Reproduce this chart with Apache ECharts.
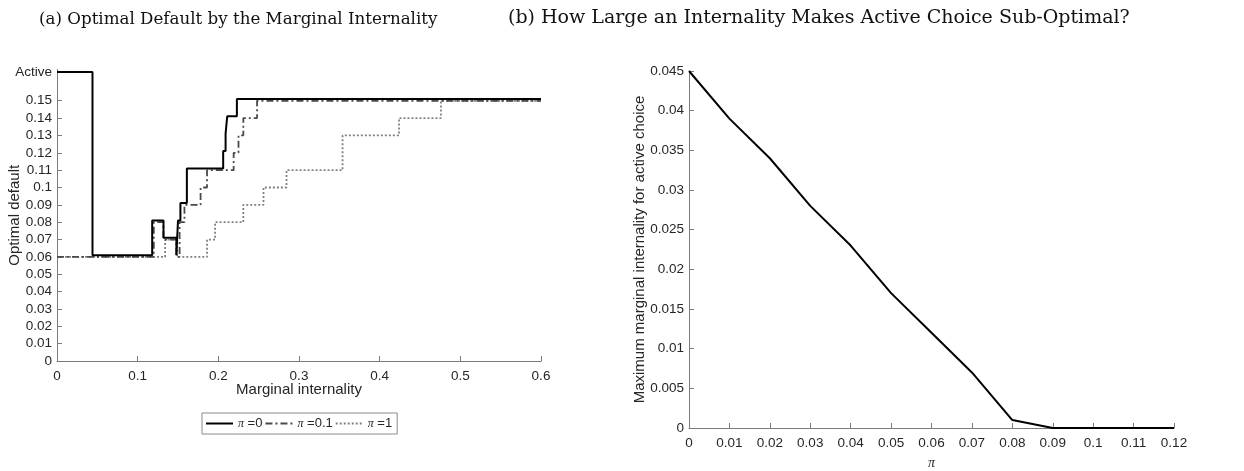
<!DOCTYPE html>
<html>
<head>
<meta charset="utf-8">
<script src="https://cdn.jsdelivr.net/npm/echarts@6/dist/echarts.min.js"></script>
<style>
  html, body { margin: 0; padding: 0; background: #fff; }
  #main { width: 1244px; height: 471px; }
</style>
</head>
<body>
<div id="main"></div>
<script>
// panel (a): step lines, each point = [start of step, optimal default]
var ACTIVE = 0.1665; // where "Active" sits on the y axis
var pi0 = [[0, ACTIVE], [0.044, 0.061], [0.118, 0.081], [0.132, 0.071], [0.148, 0.061], [0.150, 0.081],
  [0.153, 0.091], [0.161, 0.111], [0.206, 0.121], [0.209, 0.131], [0.211, 0.141], [0.223, 0.151], [0.6, 0.151]];
var pi01 = [[0, 0.06], [0.120, 0.08], [0.132, 0.07], [0.148, 0.06], [0.152, 0.08], [0.158, 0.09],
  [0.178, 0.10], [0.186, 0.11], [0.219, 0.12], [0.225, 0.13], [0.231, 0.14], [0.248, 0.15], [0.6, 0.15]];
var pi1 = [[0, 0.06], [0.134, 0.07], [0.149, 0.06], [0.186, 0.07], [0.196, 0.08], [0.231, 0.09],
  [0.256, 0.10], [0.2845, 0.11], [0.354, 0.13], [0.424, 0.14], [0.476, 0.15], [0.6, 0.15]];
var yTicksA = [0, 0.01, 0.02, 0.03, 0.04, 0.05, 0.06, 0.07, 0.08, 0.09, 0.1, 0.11, 0.12, 0.13, 0.14, 0.15, ACTIVE];
var legendNames = ['π =0', 'π =0.1', 'π =1'];

// panel (b)
var piVals = [0, 0.01, 0.02, 0.03, 0.04, 0.05, 0.06, 0.07, 0.08, 0.09, 0.1, 0.11, 0.12];
var maxInternality = [0.045, 0.039, 0.034, 0.028, 0.023, 0.017, 0.012, 0.007, 0.001, 0, 0, 0, 0];

var sans = 'Liberation Sans';
var serif = 'DejaVu Serif';
var txt = '#262626';
var axisCol = '#7a7a7a';

function axisCommon(){
  return {
    nameMoveOverlap: false,
    axisLine: {lineStyle: {color: axisCol, width: 1}},
    axisTick: {inside: true, length: 5, lineStyle: {color: axisCol}},
    axisLabel: {color: txt, fontFamily: sans, fontSize: 13.5},
    splitLine: {show: false},
    nameTextStyle: {color: txt, fontFamily: sans, fontSize: 15}
  };
}

var myChart = echarts.init(document.getElementById('main'));

var option = {
  animation: false,
  backgroundColor: '#fff',
  title: [
    {text: '(a) Optimal Default by the Marginal Internality', left: 34, top: 6,
     textStyle: {fontFamily: serif, fontWeight: 'normal', fontSize: 16.7, color: '#111'}},
    {text: '(b) How Large an Internality Makes Active Choice Sub-Optimal?', left: 503, top: 4,
     textStyle: {fontFamily: serif, fontWeight: 'normal', fontSize: 19, color: '#111'}}
  ],
  grid: [
    {left: 57, right: 703, top: 69.5, bottom: 110, outerBoundsMode: 'none', containLabel: false},
    {left: 689, right: 70, top: 71, bottom: 43, outerBoundsMode: 'none', containLabel: false}
  ],
  legend: {
    data: legendNames,
    left: 202, top: 413,
    orient: 'horizontal',
    itemWidth: 27, itemHeight: 10, itemGap: 2,
    padding: [4, 5, 4, 3],
    borderColor: '#8a8a8a', borderWidth: 1,
    itemStyle: {opacity: 0},
    textStyle: {color: txt, fontFamily: sans, fontSize: 13},
    formatter: function(name){
      var p = name.split(' ');
      return '{pi|π} ' + p[1];
    },
    selectedMode: false
  },
  xAxis: [
    Object.assign(axisCommon(), {
      gridIndex: 0, type: 'value', min: 0, max: 0.6, interval: 0.1,
      name: 'Marginal internality', nameLocation: 'middle', nameGap: 21
    }),
    Object.assign(axisCommon(), {
      gridIndex: 1, type: 'value', min: 0, max: 0.12, interval: 0.01,
      name: 'π', nameLocation: 'middle', nameGap: 28,
      nameTextStyle: {color: txt, fontFamily: 'Liberation Serif', fontStyle: 'italic', fontSize: 14}
    })
  ],
  yAxis: [
    Object.assign(axisCommon(), {
      gridIndex: 0, type: 'value', min: 0, max: 0.168,
      name: 'Optimal default', nameLocation: 'middle', nameGap: 35
    }),
    Object.assign(axisCommon(), {
      gridIndex: 1, type: 'value', min: 0, max: 0.045, interval: 0.005,
      name: 'Maximum marginal internality for active choice', nameLocation: 'middle', nameGap: 42
    })
  ],
  series: [
    {
      name: legendNames[0], type: 'line', xAxisIndex: 0, yAxisIndex: 0, step: 'end',
      data: pi0, symbol: 'none', z: 5,
      lineStyle: {color: '#000', width: 2}, itemStyle: {color: '#000'}
    },
    {
      name: legendNames[1], type: 'line', xAxisIndex: 0, yAxisIndex: 0, step: 'end',
      data: pi01, symbol: 'none', z: 4,
      lineStyle: {color: '#4a4a4a', width: 1.8, type: [7, 3, 2, 3]}, itemStyle: {color: '#4a4a4a'}
    },
    {
      name: legendNames[2], type: 'line', xAxisIndex: 0, yAxisIndex: 0, step: 'end',
      data: pi1, symbol: 'none', z: 3,
      lineStyle: {color: '#808080', width: 1.8, type: [2, 2]}, itemStyle: {color: '#808080'}
    },
    {
      name: 'maxInt', type: 'line', xAxisIndex: 1, yAxisIndex: 1,
      data: piVals.map(function(v, i){ return [v, maxInternality[i]]; }),
      symbol: 'none', lineStyle: {color: '#000', width: 2}, itemStyle: {color: '#000'}
    }
  ]
};

// custom ticks on panel (a) y axis, with "Active" on top
option.yAxis[0].axisLabel.customValues = yTicksA;
option.yAxis[0].axisLabel.formatter = function(v){ return v > 0.16 ? 'Active' : String(+v.toFixed(2)); };
option.yAxis[0].axisTick.customValues = yTicksA;
option.yAxis[0].axisLabel.margin = 5;
option.yAxis[1].axisLabel.margin = 5;
option.legend.textStyle.rich = {
  pi: {fontFamily: 'Liberation Serif', fontStyle: 'italic', fontSize: 12, color: txt}
};

myChart.setOption(option);
</script>
</body>
</html>
